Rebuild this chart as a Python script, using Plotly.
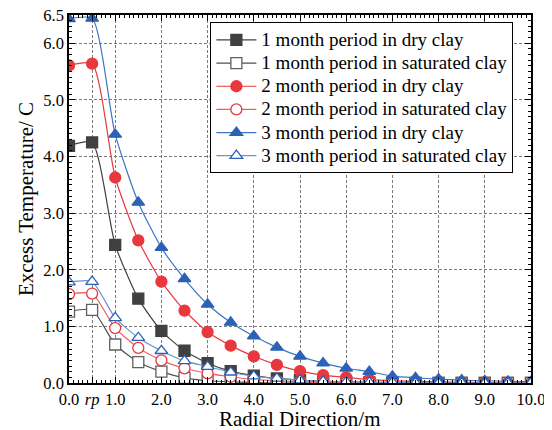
import plotly.graph_objects as go

radial = [0.0, 0.5, 1.0, 1.5, 2.0, 2.5, 3.0, 3.5, 4.0, 4.5, 5.0, 5.5, 6.0, 6.5, 7.0, 7.5, 8.0, 8.5, 9.0, 9.5, 10.0]

dry_1m = [4.19, 4.25, 2.44, 1.49, 0.92, 0.57, 0.35, 0.21, 0.13, 0.08, 0.05, 0.03, 0.02, 0.01, 0.01, 0.0, 0.0, 0.0, 0.0, 0.0, 0.0]
sat_1m = [1.26, 1.29, 0.68, 0.37, 0.20, 0.09, 0.04, 0.02, 0.01, 0.0, 0.0, 0.0, 0.0, 0.0, 0.0, 0.0, 0.0, 0.0, 0.0, 0.0, 0.0]
dry_2m = [5.61, 5.64, 3.63, 2.52, 1.79, 1.28, 0.90, 0.66, 0.47, 0.32, 0.21, 0.14, 0.10, 0.06, 0.04, 0.03, 0.02, 0.01, 0.01, 0.0, 0.0]
sat_2m = [1.57, 1.58, 0.97, 0.62, 0.40, 0.26, 0.17, 0.11, 0.06, 0.04, 0.02, 0.01, 0.01, 0.0, 0.0, 0.0, 0.0, 0.0, 0.0, 0.0, 0.0]
dry_3m = [6.43, 6.44, 4.39, 3.19, 2.39, 1.84, 1.39, 1.07, 0.83, 0.63, 0.47, 0.35, 0.26, 0.20, 0.12, 0.09, 0.07, 0.05, 0.04, 0.03, 0.02]
sat_3m = [1.78, 1.79, 1.15, 0.80, 0.57, 0.39, 0.29, 0.19, 0.12, 0.08, 0.05, 0.03, 0.02, 0.01, 0.01, 0.0, 0.0, 0.0, 0.0, 0.0, 0.0]

names = [
    "1 month period in dry clay",
    "1 month period in saturated clay",
    "2 month period in dry clay",
    "2 month period in saturated clay",
    "3 month period in dry clay",
    "3 month period in saturated clay",
]

x_tickvals = [0.0, 0.5, 1.0, 2.0, 3.0, 4.0, 5.0, 6.0, 7.0, 8.0, 9.0, 10.0]
x_ticktext = ["0.0", "<i>rp</i>", "1.0", "2.0", "3.0", "4.0", "5.0", "6.0", "7.0", "8.0", "9.0", "10.0"]
y_tickvals = [0.0, 1.0, 2.0, 3.0, 4.0, 5.0, 6.0, 6.5]
y_ticktext = ["0.0", "1.0", "2.0", "3.0", "4.0", "5.0", "6.0", "6.5"]
x_title = "Radial Direction/m"
y_title = "Excess Temperature/ C"

styles = [
    dict(line="#404040", sym="square", fill="#404040", edge="#404040"),
    dict(line="#505050", sym="square", fill="white", edge="#606060"),
    dict(line="#e8383d", sym="circle", fill="#e8383d", edge="#e8383d"),
    dict(line="#ef6064", sym="circle", fill="white", edge="#e8383d"),
    dict(line="#3f74c4", sym="triangle-up", fill="#2b62b8", edge="#2b62b8"),
    dict(line="#6b93d2", sym="triangle-up", fill="white", edge="#2b62b8"),
]

series = [dry_1m, sat_1m, dry_2m, sat_2m, dry_3m, sat_3m]

fig = go.Figure()
for name, ys, st in zip(names, series, styles):
    fig.add_trace(go.Scatter(
        x=radial, y=ys, name='<span style="font-size:19px">' + name + '</span>',
        mode="lines+markers",
        line=dict(color=st["line"], width=1.2, shape="spline", smoothing=0.6),
        marker=dict(symbol=st["sym"], size=11, color=st["fill"],
                    line=dict(color=st["edge"], width=1.3)),
        cliponaxis=True,
    ))

font_family = "Liberation Serif"
minor_x = [round(i * 0.1, 2) for i in range(0, 101)]
minor_y = [round(i * 0.1, 2) for i in range(0, 66)]

# page body has an 8px default margin, so the figure is 8px smaller and margins compensate
fig.update_layout(
    width=544, height=422,
    margin=dict(l=61, r=21, t=7, b=47),
    paper_bgcolor="white", plot_bgcolor="white",
    font=dict(family=font_family, size=16, color="black"),
    showlegend=True,
    legend=dict(
        x=0.306, y=0.98, xanchor="left", yanchor="top",
        bgcolor="white", bordercolor="black", borderwidth=1,
        font=dict(family=font_family, size=15.5, color="black"),
        tracegroupgap=0, itemwidth=40,
    ),
    xaxis=dict(
        range=[0, 10], tickmode="array", tickvals=x_tickvals, ticktext=x_ticktext,
        ticks="inside", ticklen=6, tickwidth=1, tickcolor="black",
        showline=True, linecolor="black", linewidth=1.5, mirror="allticks",
        showgrid=True, gridcolor="#7a7a7a", griddash="3px,2px", gridwidth=1,
        zeroline=False, automargin=False, ticklabeloverflow="allow",
        tickfont=dict(family=font_family, size=16.5, color="black"),
        minor=dict(tickmode="array", tickvals=minor_x, ticks="inside", ticklen=3, tickcolor="black", showgrid=False),
    ),
    yaxis=dict(
        range=[0, 6.5], tickmode="array", tickvals=y_tickvals, ticktext=y_ticktext,
        ticks="inside", ticklen=6, tickwidth=1, tickcolor="black",
        showline=True, linecolor="black", linewidth=1.5, mirror="allticks",
        showgrid=True, gridcolor="#7a7a7a", griddash="3px,2px", gridwidth=1,
        zeroline=False, automargin=False, ticklabeloverflow="allow",
        tickfont=dict(family=font_family, size=16.5, color="black"),
        minor=dict(tickmode="array", tickvals=minor_y, ticks="inside", ticklen=3, tickcolor="black", showgrid=False),
    ),
    annotations=[
        dict(text=x_title, xref="paper", yref="paper", x=0.5, y=0, yanchor="middle",
             yshift=-36, showarrow=False, font=dict(family=font_family, size=21, color="black")),
        dict(text=y_title, xref="paper", yref="paper", x=0, y=0.5, xanchor="center",
             xshift=-43, textangle=-90, showarrow=False,
             font=dict(family=font_family, size=21, color="black")),
    ],
)

fig.write_html("out.html")
